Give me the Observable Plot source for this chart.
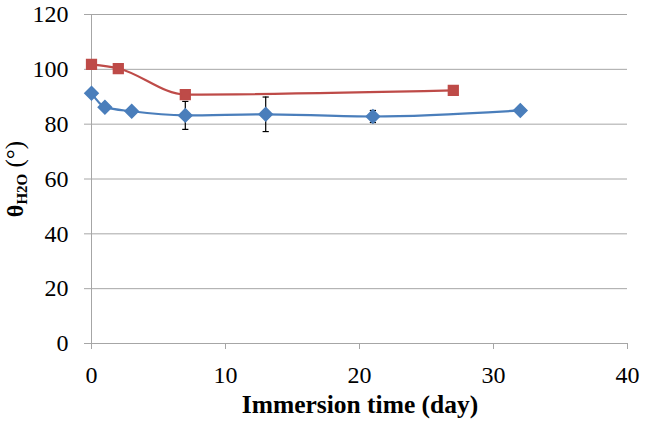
<!DOCTYPE html>
<html>
<head>
<meta charset="utf-8">
<script src="https://cdn.jsdelivr.net/npm/d3@7"></script>
<script src="https://cdn.jsdelivr.net/npm/@observablehq/plot@0.6"></script>
<style>
  body { margin: 0; background: #fff; }
</style>
</head>
<body>
<div id="chart"></div>
<script>
// Series A (blue diamonds)
const blueDays = [0, 1, 3, 7, 13, 21, 32];
const blueAngle = [91.3, 86.2, 84.7, 83.2, 83.6, 82.8, 85.0];
const blueErr = [0, 0, 0, 5.1, 6.3, 2.2, 0];
// Series B (red squares)
const redDays = [0, 2, 7, 27];
const redAngle = [101.8, 100.3, 90.8, 92.3];

const xTicks = [0, 10, 20, 30, 40];
const yTicks = [0, 20, 40, 60, 80, 100, 120];

const blue = blueDays.map((d, i) => ({x: d, y: blueAngle[i], e: blueErr[i]}));
const red = redDays.map((d, i) => ({x: d, y: redAngle[i]}));
const errs = blue.filter(d => d.e > 0);

const blueColor = "#4a7ebb";
const redColor = "#be4b48";
const gridColor = "#a6a6a6";
const serif = "'Liberation Serif', 'Times New Roman', serif";

const capSymbol = {
  draw(context, size) {
    const r = Math.sqrt(size) / 2;
    context.moveTo(-r, 0);
    context.lineTo(r, 0);
  }
};

const chart = Plot.plot({
  width: 646,
  height: 425,
  marginLeft: 91,
  marginRight: 19,
  marginTop: 14,
  marginBottom: 82,
  style: {fontSize: "24px", color: "black", background: "white"},
  x: {domain: [0, 40], label: null},
  y: {domain: [0, 120], label: null},
  marks: [
    Plot.ruleY(yTicks, {stroke: gridColor, strokeWidth: 1}),
    Plot.ruleX([0], {stroke: gridColor, strokeWidth: 1}),
    Plot.axisX(xTicks, {tickSize: 6, tickPadding: 16, stroke: gridColor, fill: "black", fontSize: 24, fontFamily: serif, label: null}),
    Plot.axisY(yTicks, {tickSize: 7, tickPadding: 16, stroke: gridColor, fill: "black", fontSize: 24, fontFamily: serif, label: null}),
    Plot.ruleX(errs, {x: "x", y1: d => d.y - d.e, y2: d => d.y + d.e, stroke: "black", strokeWidth: 1.2}),
    Plot.dot(errs, {x: "x", y: d => d.y - d.e, symbol: capSymbol, r: 3.5, stroke: "black", strokeWidth: 1.2}),
    Plot.dot(errs, {x: "x", y: d => d.y + d.e, symbol: capSymbol, r: 3.5, stroke: "black", strokeWidth: 1.2}),
    Plot.line(red, {x: "x", y: "y", stroke: redColor, strokeWidth: 2.2, curve: "monotone-x"}),
    Plot.line(blue, {x: "x", y: "y", stroke: blueColor, strokeWidth: 2.2, curve: "monotone-x"}),
    Plot.dot(red, {x: "x", y: "y", symbol: "square", r: 5.5, fill: redColor, stroke: redColor}),
    Plot.dot(blue, {x: "x", y: "y", symbol: "diamond2", r: 6, fill: blueColor, stroke: blueColor})
  ]
});

const svg = d3.select(chart);
// x-axis title
svg.append("text")
  .attr("x", 360)
  .attr("y", 413)
  .attr("text-anchor", "middle")
  .attr("font-size", 25.5)
  .attr("font-weight", "bold")
  .attr("fill", "black")
  .text("Immersion time (day)");
// y-axis title with subscript
const yt = svg.append("text")
  .attr("transform", "translate(23,179) rotate(-90)")
  .attr("text-anchor", "middle")
  .attr("fill", "black");
yt.append("tspan").attr("font-size", 24).attr("font-weight", "bold").text("θ");
yt.append("tspan").attr("font-size", 15).attr("font-weight", "bold").attr("dy", 4).text("H2O");
yt.append("tspan").attr("font-size", 25).attr("dy", -4).text(" (°)");

svg.style("font-family", serif);
svg.selectAll("text").style("font-family", serif);

document.getElementById("chart").appendChild(chart);
</script>
</body>
</html>
